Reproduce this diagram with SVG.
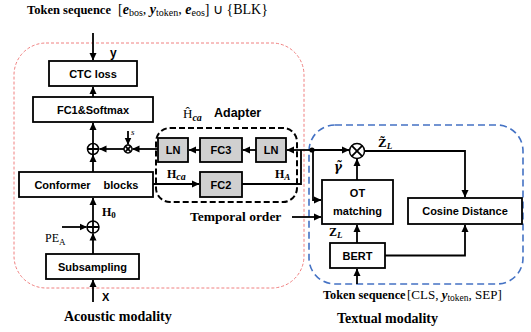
<svg xmlns="http://www.w3.org/2000/svg" width="531" height="332" viewBox="0 0 531 332">
<defs>
<marker id="ah" markerWidth="8" markerHeight="8" refX="7" refY="4" orient="auto" markerUnits="userSpaceOnUse"><path d="M0,0.5 L7.5,4 L0,7.5 z" fill="#000"/></marker>
</defs>
<style>
.box{fill:#fff;stroke:#000;stroke-width:1.8}
.gbox{fill:#d0d0d0;stroke:#000;stroke-width:1.8}
.lbl{font-family:"Liberation Sans",Arial,sans-serif;font-weight:bold;font-size:11px;text-anchor:middle;fill:#000}
.ser{font-family:"Liberation Serif","Times New Roman",serif;fill:#000}
.sans{font-family:"Liberation Sans",Arial,sans-serif;font-weight:bold;fill:#000}
.ln{fill:none;stroke:#000;stroke-width:1.8}
.arr{marker-end:url(#ah)}
.op{fill:#fff;stroke:#000;stroke-width:1.5}
</style>
<rect width="531" height="332" fill="#fff"/>
<g id="regions">
<rect x="14" y="43" width="290" height="245" rx="32" fill="none" stroke="#f08080" stroke-width="1" stroke-dasharray="3,2"/>
<rect x="309" y="125" width="214" height="159" rx="26" fill="none" stroke="#4472c4" stroke-width="1.6" stroke-dasharray="7,4"/>
<rect x="156" y="128" width="141" height="74" rx="14" fill="none" stroke="#000" stroke-width="2" stroke-dasharray="6,3"/>
</g>
<g id="connectors">
<path class="ln arr" d="M93,33 V60"/>
<path class="ln arr" d="M93,97 V87"/>
<path class="ln arr" d="M93,143.5 V123"/>
<path class="ln arr" d="M93,172 V155"/>
<path class="ln arr" d="M124,149 H99.5"/>
<path class="ln arr" d="M128,131 V144.5" stroke-width="1.2"/>
<path class="ln arr" d="M158,149 H132.5"/>
<path class="ln arr" d="M200,150 H189"/>
<path class="ln arr" d="M256,150 H243"/>
<path class="ln arr" d="M312,150 H287"/>
<path class="ln arr" d="M312,150 H349"/>
<path class="ln" d="M242,184 H301 V150"/>
<path class="ln arr" d="M153,184 H199"/>
<path class="ln arr" d="M313,150 V200 H321"/>
<path class="ln arr" d="M292,217 H321"/>
<path class="ln arr" d="M364.5,151 H465 V197"/>
<path class="ln arr" d="M357,180 V159"/>
<path class="ln arr" d="M357,243 V225"/>
<path class="ln arr" d="M357,284 V269"/>
<path class="ln arr" d="M385,255.5 H465 V225"/>
<path class="ln arr" d="M93,254 V233.5"/>
<path class="ln arr" d="M93,221 V198"/>
<path class="ln arr" d="M62,227 H86.5"/>
<path class="ln arr" d="M93,302 V280"/>
<circle cx="312" cy="150" r="2.6" fill="#000"/>
</g>
<g id="ctc"><rect class="box" x="49" y="61" width="88" height="25"/><text class="lbl" x="93" y="77.5">CTC loss</text></g>
<g id="fc1"><rect class="box" x="33" y="97" width="120" height="25"/><text class="lbl" x="93" y="113.5">FC1&amp;Softmax</text></g>
<g id="conformer"><rect class="box" x="19" y="172" width="134" height="25"/><text class="lbl" x="62.5" y="188.5">Conformer</text><text class="lbl" x="121" y="188.5">blocks</text></g>
<g id="subsampling"><rect class="box" x="46" y="254" width="93" height="25"/><text class="lbl" x="92.5" y="270.5">Subsampling</text></g>
<g id="ln1"><rect class="gbox" x="158" y="138" width="30" height="24"/><text class="lbl" x="173" y="154">LN</text></g>
<g id="fc3"><rect class="gbox" x="200" y="138" width="42" height="24"/><text class="lbl" x="221" y="154">FC3</text></g>
<g id="ln2"><rect class="gbox" x="256" y="138" width="30" height="24"/><text class="lbl" x="271" y="154">LN</text></g>
<g id="fc2"><rect class="gbox" x="200" y="172" width="42" height="25"/><text class="lbl" x="221" y="188.5">FC2</text></g>
<g id="ot"><rect class="box" x="322" y="180" width="71" height="44"/><text class="lbl" x="357.5" y="197">OT</text><text class="lbl" x="357.5" y="215">matching</text></g>
<g id="cosine"><rect class="box" x="408" y="198" width="114" height="26"/><text class="lbl" x="465" y="215">Cosine Distance</text></g>
<g id="bert"><rect class="box" x="330" y="243" width="55" height="25"/><text class="lbl" x="357.5" y="259.5">BERT</text></g>
<g id="oplus1"><circle class="op" cx="93" cy="149" r="5.5"/><path class="ln" stroke-width="1.3" d="M87.5,149 H98.5 M93,143.5 V154.5"/></g>
<g id="oplus2"><circle class="op" cx="93" cy="227" r="6"/><path class="ln" stroke-width="1.3" d="M87,227 H99 M93,221 V233"/></g>
<g id="otimes1"><circle class="op" cx="128" cy="149" r="4" stroke-width="1"/><path class="ln" stroke-width="1" d="M125.2,146.2 L130.8,151.8 M130.8,146.2 L125.2,151.8"/></g>
<g id="otimes2"><circle class="op" cx="357" cy="151" r="7.5"/><path class="ln" stroke-width="1.5" d="M351.7,145.7 L362.3,156.3 M362.3,145.7 L351.7,156.3"/></g>
<g id="labels">
<text class="ser" x="27" y="14" font-size="12.5"><tspan font-weight="bold">Token sequence</tspan><tspan x="118" font-size="14">[</tspan><tspan font-size="14" font-weight="bold" font-style="italic">e</tspan><tspan font-size="10" dy="2">bos</tspan><tspan font-size="14" dy="-2">, </tspan><tspan font-size="14" font-weight="bold" font-style="italic">y</tspan><tspan font-size="10" dy="2">token</tspan><tspan font-size="14" dy="-2">, </tspan><tspan font-size="14" font-weight="bold" font-style="italic">e</tspan><tspan font-size="10" dy="2">eos</tspan><tspan font-size="14" dy="-2">] ∪ {BLK}</tspan></text>
<text class="sans" x="110" y="57" font-size="12">y</text>
<text class="ser" x="183" y="118" font-size="13">Ĥ<tspan font-size="10" font-style="italic" font-weight="bold" dy="3">ca</tspan></text>
<text class="sans" x="214" y="117" font-size="12.5">Adapter</text>
<text class="ser" x="131" y="135" font-size="9" font-style="italic">s</text>
<text class="ser" x="167" y="178" font-size="12" font-weight="bold">H<tspan font-size="10" font-style="italic" dy="2">ca</tspan></text>
<text class="ser" x="275" y="178" font-size="12" font-weight="bold">H<tspan font-size="9" font-style="italic" dy="2">A</tspan></text>
<text class="ser" x="102" y="216" font-size="12" font-weight="bold">H<tspan font-size="9" dy="2">0</tspan></text>
<text class="ser" x="45" y="242" font-size="12">PE<tspan font-size="9" dy="3">A</tspan></text>
<text class="sans" x="102" y="301" font-size="11">X</text>
<text class="ser" x="64" y="321" font-size="14" font-weight="bold">Acoustic modality</text>
<text class="ser" x="190" y="221" font-size="13.5" font-weight="bold">Temporal order</text>
<text class="ser" x="378" y="147" font-size="13" font-weight="bold">Z&#x303;<tspan font-size="9" font-style="italic" dy="2">L</tspan></text>
<text x="334" y="171" font-size="12" font-weight="bold" font-style="italic" font-family="'DejaVu Serif',serif" fill="#000">γ&#x303;</text>
<text class="ser" x="329" y="236" font-size="12" font-weight="bold">Z<tspan font-size="9" font-style="italic" dy="2">L</tspan></text>
<text class="ser" x="323" y="299" font-size="12.3"><tspan font-weight="bold">Token sequence</tspan><tspan x="407" font-size="13">[CLS, </tspan><tspan font-size="13" font-weight="bold" font-style="italic">y</tspan><tspan font-size="9.5" dy="2">token</tspan><tspan font-size="13" dy="-2">, SEP]</tspan></text>
<text class="ser" x="337" y="323" font-size="14" font-weight="bold">Textual modality</text>
</g>
</svg>
